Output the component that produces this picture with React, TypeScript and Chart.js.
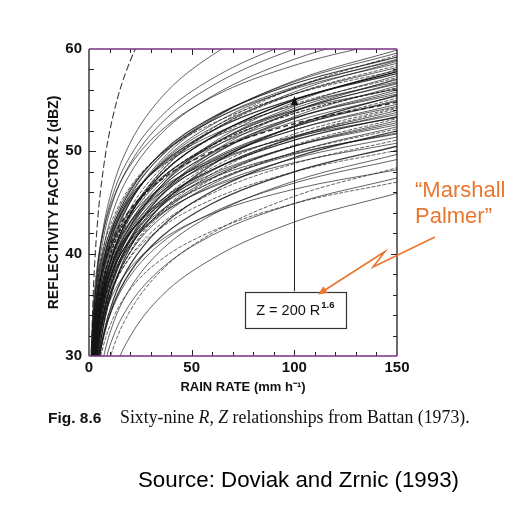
import React, { useEffect, useRef } from "react";
import { Chart, registerables } from "chart.js";

Chart.register(...registerables);

// Rain rates (mm/h) at which every curve is read
const RAIN_RATE = [1, 2, 4, 7, 12, 20, 35, 60, 100, 150];

// Reflectivity (dBZ) read at RAIN_RATE for each of the 69 relationships
const STEEP_CURVES = [
  [28.9, 35.8, 42.7, 48.3, 53.7, 58.8, 64.4, 69.8, 74.9, 78.9],
  [27.4, 32.8, 38.2, 42.6, 46.8, 50.8, 55.2, 59.4, 63.4, 66.6],
  [28.7, 33.5, 38.3, 42.2, 46.0, 49.5, 53.4, 57.1, 60.7, 63.5],
  [28.0, 32.8, 37.6, 41.5, 45.3, 48.8, 52.7, 56.4, 60.0, 62.8],
  [27.0, 31.8, 36.6, 40.5, 44.3, 47.8, 51.7, 55.4, 59.0, 61.8],
  [30.4, 34.6, 38.8, 42.2, 45.5, 48.6, 52.0, 55.3, 58.4, 60.9],
];

const MARSHALL_PALMER = [23.0, 27.8, 32.6, 36.5, 40.3, 43.8, 47.7, 51.4, 55.0, 57.8];

const MAIN_CURVES = [
  [22.9, 28.0, 33.1, 37.3, 41.2, 45.0, 49.1, 53.1, 56.9, 59.9],
  [24.8, 29.6, 34.4, 38.3, 42.1, 45.6, 49.5, 53.2, 56.8, 59.6],
  [20.2, 25.6, 31.0, 35.4, 39.6, 43.6, 48.0, 52.2, 56.2, 59.4],
  [26.6, 31.1, 35.6, 39.3, 42.8, 46.1, 49.8, 53.3, 56.6, 59.2],
  [24.2, 29.0, 33.8, 37.7, 41.5, 45.0, 48.9, 52.6, 56.2, 59.0],
  [21.8, 26.9, 32.0, 36.2, 40.1, 43.9, 48.0, 52.0, 55.8, 58.8],
  [28.1, 32.3, 36.5, 39.9, 43.2, 46.3, 49.7, 53.0, 56.1, 58.6],
  [23.6, 28.4, 33.2, 37.1, 40.9, 44.4, 48.3, 52.0, 55.6, 58.4],
  [25.6, 30.1, 34.6, 38.3, 41.8, 45.1, 48.8, 52.3, 55.6, 58.2],
  [18.8, 24.2, 29.6, 34.0, 38.2, 42.2, 46.6, 50.8, 54.8, 58.0],
  [27.1, 31.3, 35.5, 38.9, 42.2, 45.3, 48.7, 52.0, 55.1, 57.6],
  [20.4, 25.5, 30.6, 34.8, 38.7, 42.5, 46.6, 50.6, 54.4, 57.4],
  [24.6, 29.1, 33.6, 37.3, 40.8, 44.1, 47.8, 51.3, 54.6, 57.2],
  [22.2, 27.0, 31.8, 35.7, 39.5, 43.0, 46.9, 50.6, 54.2, 57.0],
  [28.5, 32.4, 36.3, 39.5, 42.5, 45.4, 48.6, 51.6, 54.5, 56.8],
  [24.0, 28.5, 33.0, 36.7, 40.2, 43.5, 47.2, 50.7, 54.0, 56.6],
  [19.4, 24.5, 29.6, 33.8, 37.7, 41.5, 45.6, 49.6, 53.4, 56.4],
  [25.7, 29.9, 34.1, 37.5, 40.8, 43.9, 47.3, 50.6, 53.7, 56.2],
  [21.2, 26.0, 30.8, 34.7, 38.5, 42.0, 45.9, 49.6, 53.2, 56.0],
  [23.2, 27.7, 32.2, 35.9, 39.4, 42.7, 46.4, 49.9, 53.2, 55.8],
  [27.3, 31.2, 35.1, 38.3, 41.3, 44.2, 47.4, 50.4, 53.3, 55.6],
  [24.9, 29.1, 33.3, 36.7, 40.0, 43.1, 46.5, 49.8, 52.9, 55.4],
  [20.4, 25.2, 30.0, 33.9, 37.7, 41.2, 45.1, 48.8, 52.4, 55.2],
  [22.4, 26.9, 31.4, 35.1, 38.6, 41.9, 45.6, 49.1, 52.4, 55.0],
  [28.7, 32.3, 35.9, 38.8, 41.6, 44.3, 47.2, 50.0, 52.7, 54.8],
  [24.1, 28.3, 32.5, 35.9, 39.2, 42.3, 45.7, 49.0, 52.1, 54.6],
  [26.1, 30.0, 33.9, 37.1, 40.1, 43.0, 46.2, 49.2, 52.1, 54.4],
  [19.4, 24.2, 29.0, 32.9, 36.7, 40.2, 44.1, 47.8, 51.4, 54.2],
  [21.4, 25.9, 30.4, 34.1, 37.6, 40.9, 44.6, 48.1, 51.4, 54.0],
  [23.3, 27.5, 31.7, 35.1, 38.4, 41.5, 44.9, 48.2, 51.3, 53.8],
  [27.5, 31.1, 34.7, 37.6, 40.4, 43.1, 46.0, 48.8, 51.5, 53.6],
  [25.1, 29.0, 32.9, 36.1, 39.1, 42.0, 45.2, 48.2, 51.1, 53.4],
  [20.6, 25.1, 29.6, 33.3, 36.8, 40.1, 43.8, 47.3, 50.6, 53.2],
  [22.5, 26.7, 30.9, 34.3, 37.6, 40.7, 44.1, 47.4, 50.5, 53.0],
  [24.5, 28.4, 32.3, 35.5, 38.5, 41.4, 44.6, 47.6, 50.5, 52.8],
  [26.5, 30.1, 33.7, 36.6, 39.4, 42.1, 45.0, 47.8, 50.5, 52.6],
  [21.9, 26.1, 30.3, 33.7, 37.0, 40.1, 43.5, 46.8, 49.9, 52.4],
  [23.9, 27.8, 31.7, 34.9, 37.9, 40.8, 44.0, 47.0, 49.9, 52.2],
  [19.4, 23.9, 28.4, 32.1, 35.6, 38.9, 42.6, 46.1, 49.4, 52.0],
  [25.7, 29.3, 32.9, 35.8, 38.6, 41.3, 44.2, 47.0, 49.7, 51.8],
  [27.8, 31.1, 34.4, 37.1, 39.7, 42.1, 44.8, 47.4, 49.8, 51.7],
  [26.3, 30.8, 35.3, 39.0, 42.5, 45.8, 49.5, 53.0, 56.3, 58.9],
  [29.6, 33.5, 37.4, 40.6, 43.6, 46.5, 49.7, 52.7, 55.6, 57.9],
  [17.9, 23.3, 28.7, 33.1, 37.3, 41.3, 45.7, 49.9, 53.9, 57.1],
  [30.0, 33.6, 37.2, 40.1, 42.9, 45.6, 48.5, 51.3, 54.0, 56.1],
  [18.5, 23.6, 28.7, 32.9, 36.8, 40.6, 44.7, 48.7, 52.5, 55.5],
  [24.4, 28.6, 32.8, 36.2, 39.5, 42.6, 46.0, 49.3, 52.4, 54.9],
  [21.7, 26.2, 30.7, 34.4, 37.9, 41.2, 44.9, 48.4, 51.7, 54.3],
  [29.4, 32.7, 36.0, 38.7, 41.3, 43.7, 46.4, 49.0, 51.4, 53.3],
  [21.9, 26.7, 31.5, 35.4, 39.2, 42.7, 46.6, 50.3, 53.9, 56.7],
];

const LOWER_CURVES = [
  [25.3, 28.9, 32.5, 35.4, 38.2, 40.9, 43.8, 46.6, 49.3, 51.4],
  [22.8, 26.7, 30.6, 33.8, 36.8, 39.7, 42.9, 45.9, 48.8, 51.1],
  [26.9, 30.2, 33.5, 36.2, 38.8, 41.2, 43.9, 46.5, 48.9, 50.8],
  [20.0, 24.2, 28.4, 31.8, 35.1, 38.2, 41.6, 44.9, 48.0, 50.5],
  [24.0, 27.6, 31.2, 34.1, 36.9, 39.6, 42.5, 45.3, 48.0, 50.1],
  [17.1, 21.6, 26.1, 29.8, 33.3, 36.6, 40.3, 43.8, 47.1, 49.7],
  [20.9, 24.8, 28.7, 31.9, 34.9, 37.8, 41.0, 44.0, 46.9, 49.2],
  [13.6, 18.4, 23.2, 27.1, 30.9, 34.4, 38.3, 42.0, 45.6, 48.4],
  [24.3, 27.6, 30.9, 33.6, 36.2, 38.6, 41.3, 43.9, 46.3, 48.2],
  [16.9, 21.1, 25.3, 28.7, 32.0, 35.1, 38.5, 41.8, 44.9, 47.4],
  [20.9, 24.5, 28.1, 31.0, 33.8, 36.5, 39.4, 42.2, 44.9, 47.0],
  [11.1, 15.9, 20.7, 24.6, 28.4, 31.9, 35.8, 39.5, 43.1, 45.9],
];

const X_TICKS = [0, 50, 100, 150];
const Y_TICKS = [30, 40, 50, 60];
const X_TITLE = "RAIN RATE (mm h\u207B\u00B9)";
const Y_TITLE = "REFLECTIVITY FACTOR Z (dBZ)";
const MP_TEXT = "Z = 200 R";
const MP_EXP = "1.6";
const MP_ARROW_R = 100;
const MP_ARROW_DBZ = 55.4;
const MP_BOX = { r0: 76, r1: 125, z0: 32.75, z1: 36.3 };
const LABEL_LINES = ["\u201CMarshall", "Palmer\u201D"];
const CAPTION_BOLD = "Fig. 8.6";
const SOURCE_TEXT = "Source: Doviak and Zrnic (1993)";

const SANS = "'Liberation Sans', Arial, Helvetica, sans-serif";
const SERIF = "'Liberation Serif', 'Times New Roman', serif";
const ORANGE = "#E8762F";

function toPoints(arr: number[]) {
  return RAIN_RATE.map((r, i) => ({ x: r, y: arr[i] }));
}

const decor = {
  id: "decor",
  afterDraw(chart: any) {
    const ctx = chart.ctx as CanvasRenderingContext2D;
    const { left, right, top, bottom } = chart.chartArea;
    const xs = chart.scales.x;
    const ys = chart.scales.y;
    ctx.save();

    const seg = (x1: number, y1: number, x2: number, y2: number) => {
      ctx.beginPath();
      ctx.moveTo(x1, y1);
      ctx.lineTo(x2, y2);
      ctx.stroke();
    };

    // inner ticks
    ctx.strokeStyle = "#222";
    ctx.lineWidth = 1;
    for (let v = 10; v < 150; v += 10) {
      const px = Math.round(xs.getPixelForValue(v)) + 0.5;
      const len = v % 50 === 0 ? 6 : 4;
      seg(px, bottom, px, bottom - len);
      seg(px, top, px, top + len);
    }
    for (let v = 32; v < 60; v += 2) {
      const py = Math.round(ys.getPixelForValue(v)) + 0.5;
      const len = v % 10 === 0 ? 6 : 4;
      seg(left, py, left + len + 1, py);
      seg(right, py, right - len, py);
    }

    // frame
    ctx.lineWidth = 1.3;
    ctx.strokeStyle = "#1e1e1e";
    seg(left, top, left, bottom);
    seg(right, top, right, bottom);
    ctx.strokeStyle = "#7a2f86";
    ctx.lineWidth = 1.6;
    seg(left, top, right, top);
    seg(left, bottom, right, bottom);

    // Marshall-Palmer pointer
    const ax = Math.round(xs.getPixelForValue(MP_ARROW_R)) + 0.5;
    const tipY = ys.getPixelForValue(MP_ARROW_DBZ);
    const bx0 = xs.getPixelForValue(MP_BOX.r0);
    const bx1 = xs.getPixelForValue(MP_BOX.r1);
    const by0 = ys.getPixelForValue(MP_BOX.z1);
    const by1 = ys.getPixelForValue(MP_BOX.z0);
    ctx.strokeStyle = "#222";
    ctx.lineWidth = 1;
    seg(ax, by0, ax, tipY + 4);
    ctx.fillStyle = "#111";
    ctx.beginPath();
    ctx.moveTo(ax, tipY);
    ctx.lineTo(ax - 3.5, tipY + 9);
    ctx.lineTo(ax + 3.5, tipY + 9);
    ctx.closePath();
    ctx.fill();

    ctx.fillStyle = "#fff";
    ctx.fillRect(bx0, by0, bx1 - bx0, by1 - by0);
    ctx.strokeStyle = "#333";
    ctx.lineWidth = 1.2;
    ctx.strokeRect(Math.round(bx0) + 0.5, Math.round(by0) + 0.5, Math.round(bx1 - bx0), Math.round(by1 - by0));

    ctx.fillStyle = "#111";
    ctx.font = `14.5px ${SANS}`;
    const w1 = ctx.measureText(MP_TEXT).width;
    ctx.font = `bold 9.5px ${SANS}`;
    const w2 = ctx.measureText(MP_EXP).width;
    const tx = (bx0 + bx1) / 2 - (w1 + w2 + 1) / 2;
    const tb = (by0 + by1) / 2 + 5;
    ctx.textBaseline = "alphabetic";
    ctx.textAlign = "left";
    ctx.font = `14.5px ${SANS}`;
    ctx.fillText(MP_TEXT, tx, tb);
    ctx.font = `bold 9.5px ${SANS}`;
    ctx.fillText(MP_EXP, tx + w1 + 1, tb - 7);

    // orange label & zig-zag arrow
    ctx.fillStyle = ORANGE;
    ctx.font = `22px ${SANS}`;
    ctx.fillText(LABEL_LINES[0], 415, 197);
    ctx.fillText(LABEL_LINES[1], 415, 223);
    ctx.strokeStyle = ORANGE;
    ctx.lineWidth = 1.6;
    ctx.beginPath();
    ctx.moveTo(435, 237);
    ctx.lineTo(373, 267);
    ctx.lineTo(385, 251.5);
    ctx.lineTo(325, 290);
    ctx.stroke();
    const ex = 318, ey = 294.5;
    const ang = Math.atan2(ey - 251.5, ex - 385);
    ctx.beginPath();
    ctx.moveTo(ex, ey);
    ctx.lineTo(ex - 9 * Math.cos(ang) + 4 * Math.sin(ang), ey - 9 * Math.sin(ang) - 4 * Math.cos(ang));
    ctx.lineTo(ex - 9 * Math.cos(ang) - 4 * Math.sin(ang), ey - 9 * Math.sin(ang) + 4 * Math.cos(ang));
    ctx.closePath();
    ctx.fill();

    // caption
    ctx.fillStyle = "#111";
    ctx.font = `bold 15.5px ${SANS}`;
    ctx.fillText(CAPTION_BOLD, 48, 423);
    let cx = 120;
    const parts: [string, boolean][] = [
      ["Sixty-nine ", false],
      ["R", true],
      [", ", false],
      ["Z", true],
      [" relationships from Battan (1973).", false],
    ];
    for (const [t, it] of parts) {
      ctx.font = `${it ? "italic " : ""}17.8px ${SERIF}`;
      ctx.fillText(t, cx, 423);
      cx += ctx.measureText(t).width;
    }

    ctx.fillStyle = "#000";
    ctx.font = `22.3px ${SANS}`;
    ctx.fillText(SOURCE_TEXT, 138, 487);

    ctx.restore();
  },
};

export default function App() {
  const ref = useRef<HTMLCanvasElement | null>(null);

  useEffect(() => {
    if (!ref.current) return;
    Chart.defaults.font.family = SANS;

    const base = {
      fill: false,
      pointRadius: 0,
      pointHoverRadius: 0,
      cubicInterpolationMode: "monotone" as const,
      clip: 0,
    };
    const datasets: any[] = [];
    STEEP_CURVES.forEach((c, i) =>
      datasets.push({
        ...base,
        data: toPoints(c),
        borderColor: "rgba(25,25,25,0.85)",
        borderWidth: i === 0 ? 1.1 : 0.8,
        borderDash: i === 0 ? [7, 3] : [],
      })
    );
    MAIN_CURVES.forEach((c, i) =>
      datasets.push({
        ...base,
        data: toPoints(c),
        borderColor: "rgba(20,20,20,0.85)",
        borderWidth: i === 24 ? 1.4 : i % 7 === 3 ? 1.2 : 0.8,
        borderDash: i === 24 ? [5, 3] : i % 5 === 2 ? [4, 1.5] : [],
      })
    );
    datasets.push({
      ...base,
      data: toPoints(MARSHALL_PALMER),
      borderColor: "#111",
      borderWidth: 1.3,
    });
    LOWER_CURVES.forEach((c, i) =>
      datasets.push({
        ...base,
        data: toPoints(c),
        borderColor: "rgba(25,25,25,0.85)",
        borderWidth: i === 3 ? 1.3 : 0.8,
        borderDash: i % 3 === 1 ? [4, 1.5] : [],
      })
    );

    const chart = new Chart(ref.current, {
      type: "line",
      data: { datasets },
      options: {
        responsive: false,
        animation: false,
        devicePixelRatio: 1,
        layout: { padding: { left: 0, top: 49, right: 114, bottom: 118 } },
        plugins: { legend: { display: false }, tooltip: { enabled: false } },
        scales: {
          x: {
            type: "linear",
            min: 0,
            max: 150,
            grid: { display: false, drawTicks: false },
            border: { display: false },
            afterBuildTicks: (s: any) => {
              s.ticks = X_TICKS.map((v) => ({ value: v }));
            },
            afterFit: (s: any) => {
              s.height = 44;
            },
            ticks: { padding: 3, color: "#111", font: { size: 15, weight: "bold" }, maxRotation: 0, autoSkip: false },
            title: {
              display: true,
              text: X_TITLE,
              color: "#111",
              font: { size: 13, weight: "bold" },
              padding: { top: 0, bottom: 5 },
            },
          },
          y: {
            type: "linear",
            min: 30,
            max: 60,
            grid: { display: false, drawTicks: false },
            border: { display: false },
            afterBuildTicks: (s: any) => {
              s.ticks = Y_TICKS.map((v) => ({ value: v }));
            },
            afterFit: (s: any) => {
              s.width = 89;
            },
            ticks: { padding: 7, color: "#111", font: { size: 15, weight: "bold" }, autoSkip: false },
            title: {
              display: true,
              text: Y_TITLE,
              color: "#111",
              font: { size: 14, weight: "bold" },
              padding: { top: 45.6, bottom: 0 },
            },
          },
        },
      } as any,
      plugins: [decor],
    });
    return () => chart.destroy();
  }, []);

  return (
    <div style={{ position: "fixed", left: 0, top: 0, width: 511, height: 518, background: "#fff" }}>
      <canvas ref={ref} width={511} height={518} style={{ width: 511, height: 518, display: "block" }} />
    </div>
  );
}
